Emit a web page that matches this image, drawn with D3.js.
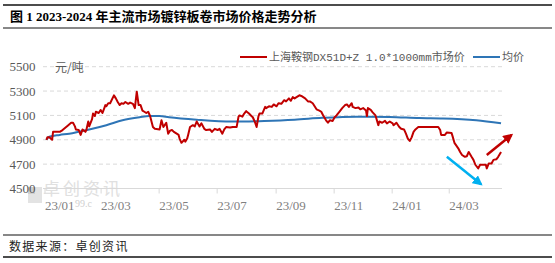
<!DOCTYPE html>
<html>
<head>
<meta charset="utf-8">
<script src="https://cdn.jsdelivr.net/npm/d3@7"></script>
<style>
  body { margin: 0; background: #fff; }
  svg { display: block; }
  .cjk { font-family: "Noto Sans CJK SC", sans-serif; }
</style>
</head>
<body>
<div id="chart"></div>
<script>
// price series: [date, yuan/ton]
const price = [
  ['2023-01-03',4900],['2023-01-04',4920],['2023-01-06',4920],['2023-01-09',4900],['2023-01-10',4965],
  ['2023-01-17',4965],['2023-01-20',4980],['2023-01-26',5020],['2023-01-29',5040],['2023-01-31',5040],
  ['2023-02-02',5010],['2023-02-03',4985],['2023-02-06',4980],['2023-02-08',4940],['2023-02-10',4985],
  ['2023-02-13',4965],['2023-02-14',4980],['2023-02-16',5050],['2023-02-17',5010],['2023-02-20',5070],
  ['2023-02-21',5115],['2023-02-23',5095],['2023-02-24',5130],['2023-02-27',5120],['2023-03-01',5145],
  ['2023-03-03',5120],['2023-03-06',5185],['2023-03-07',5175],['2023-03-09',5200],['2023-03-11',5200],
  ['2023-03-15',5265],['2023-03-17',5240],['2023-03-19',5210],['2023-03-21',5185],['2023-03-23',5200],
  ['2023-03-25',5195],['2023-03-27',5210],['2023-03-30',5195],['2023-04-01',5205],['2023-04-04',5195],
  ['2023-04-06',5160],['2023-04-08',5295],['2023-04-10',5185],['2023-04-12',5185],['2023-04-14',5140],
  ['2023-04-16',5130],['2023-04-18',5120],['2023-04-20',5130],['2023-04-22',5095],['2023-04-25',5005],
  ['2023-04-27',4990],['2023-05-02',4985],['2023-05-04',5060],['2023-05-06',5005],['2023-05-09',5040],
  ['2023-05-11',4950],['2023-05-13',4975],['2023-05-15',4980],['2023-05-17',4965],['2023-05-20',4950],
  ['2023-05-22',4940],['2023-05-23',4910],['2023-05-25',4875],['2023-05-28',4900],['2023-05-29',4885],
  ['2023-05-31',4910],['2023-06-01',4940],['2023-06-03',5005],['2023-06-06',5020],['2023-06-08',5010],
  ['2023-06-10',5050],['2023-06-13',5010],['2023-06-15',5035],['2023-06-18',4990],['2023-06-20',4980],
  ['2023-06-24',4985],['2023-06-26',4965],['2023-06-29',4990],['2023-07-02',4980],['2023-07-04',4990],
  ['2023-07-07',4950],['2023-07-09',4985],['2023-07-11',5005],['2023-07-15',5000],['2023-07-18',5005],
  ['2023-07-22',5005],['2023-07-24',5090],['2023-07-25',5100],['2023-07-28',5090],['2023-07-30',5115],
  ['2023-08-01',5135],['2023-08-04',5115],['2023-08-06',5100],['2023-08-08',5085],['2023-08-10',5050],
  ['2023-08-12',5005],['2023-08-14',5095],['2023-08-15',5115],['2023-08-18',5115],['2023-08-21',5170],
  ['2023-08-22',5160],['2023-08-25',5175],['2023-08-28',5170],['2023-08-30',5190],['2023-09-02',5175],
  ['2023-09-04',5200],['2023-09-07',5195],['2023-09-10',5225],['2023-09-12',5215],['2023-09-15',5240],
  ['2023-09-17',5220],['2023-09-19',5250],['2023-09-21',5240],['2023-09-23',5250],['2023-09-26',5265],
  ['2023-09-28',5260],['2023-10-02',5240],['2023-10-05',5215],['2023-10-07',5215],['2023-10-10',5200],
  ['2023-10-12',5175],['2023-10-14',5150],['2023-10-17',5140],['2023-10-19',5130],['2023-10-21',5100],
  ['2023-10-24',5060],['2023-10-26',5040],['2023-10-28',5060],['2023-10-31',5055],['2023-11-02',5085],
  ['2023-11-04',5100],['2023-11-07',5130],['2023-11-10',5160],['2023-11-13',5185],['2023-11-15',5190],
  ['2023-11-17',5170],['2023-11-20',5200],['2023-11-21',5170],['2023-11-24',5160],['2023-11-27',5165],
  ['2023-11-29',5150],['2023-12-02',5160],['2023-12-05',5140],['2023-12-06',5095],['2023-12-07',5160],
  ['2023-12-10',5145],['2023-12-12',5125],['2023-12-15',5100],['2023-12-18',5020],['2023-12-19',5050],
  ['2023-12-22',5040],['2023-12-25',5055],['2023-12-27',5035],['2023-12-30',5050],['2024-01-02',5035],
  ['2024-01-03',5020],['2024-01-06',5040],['2024-01-09',5005],['2024-01-11',4990],['2024-01-14',4985],
  ['2024-01-16',4950],['2024-01-18',4910],['2024-01-20',4890],['2024-01-22',4920],['2024-01-24',4965],
  ['2024-01-26',4985],['2024-01-29',5005],['2024-02-06',5005],['2024-02-12',5005],['2024-02-19',5005],
  ['2024-02-21',4980],['2024-02-22',4940],['2024-02-26',4940],['2024-02-28',4960],['2024-03-04',4955],
  ['2024-03-05',4930],['2024-03-07',4875],['2024-03-11',4830],['2024-03-13',4800],['2024-03-15',4775],
  ['2024-03-18',4760],['2024-03-20',4765],['2024-03-22',4800],['2024-03-25',4760],['2024-03-27',4735],
  ['2024-03-29',4695],['2024-04-01',4665],['2024-04-03',4695],['2024-04-07',4695],['2024-04-09',4695],
  ['2024-04-10',4665],['2024-04-12',4705],['2024-04-15',4705],['2024-04-17',4735],['2024-04-20',4740],
  ['2024-04-22',4760],['2024-04-25',4800]
];

// average price series
const avg = [
  ['2023-01-03',4900],['2023-01-06',4925],['2023-01-17',4940],['2023-01-27',4950],['2023-02-07',4968],
  ['2023-02-17',4985],['2023-03-07',5020],['2023-03-24',5060],['2023-04-11',5085],['2023-04-21',5095],
  ['2023-05-02',5095],['2023-05-12',5085],['2023-06-10',5065],['2023-07-17',5050],['2023-08-20',5055],
  ['2023-09-21',5065],['2023-10-20',5080],['2023-11-25',5090],['2023-12-30',5088],['2024-01-30',5078],
  ['2024-02-24',5075],['2024-03-30',5060],['2024-04-25',5035]
];

const yTicks = [4500, 4700, 4900, 5100, 5300, 5500];
const xTickDates = ['2023-01-01','2023-03-01','2023-05-01','2023-07-01','2023-09-01','2023-11-01','2024-01-01','2024-03-01'];
const seriesNames = ['上海鞍钢DX51D+Z 1.0*1000mm市场价', '均价'];
const seriesColors = ['#c00000', '#2e75b6'];
const titleText = '图 1 2023-2024 年主流市场镀锌板卷市场价格走势分析';
const sourceText = '数据来源：卓创资讯';
const unitText = '元/吨';

// trend arrows: [fromDate, fromValue, toDate, toValue]
const arrows = [
  { from: ['2024-04-10', 4775], to: ['2024-05-06', 4940], color: '#c00000' },
  { from: ['2024-02-28', 4760], to: ['2024-04-04', 4535], color: '#00b0f0' }
];

const width = 555;
const height = 263;
const margin = { left: 44.5, right: 53, top: 66.7, bottom: 74.5 };

const parse = d3.timeParse('%Y-%m-%d');

const svg = d3.select('#chart').append('svg')
    .attr('width', width)
    .attr('height', height);

svg.append('defs').selectAll('marker').data(arrows)
  .enter().append('marker')
    .attr('id', (d, i) => 'arrow' + i)
    .attr('viewBox', '0 0 10 10')
    .attr('refX', 8).attr('refY', 5)
    .attr('markerWidth', 4).attr('markerHeight', 4)
    .attr('markerUnits', 'strokeWidth')
    .attr('orient', 'auto')
  .append('path')
    .attr('d', 'M0,0 L10,5 L0,10 z')
    .attr('fill', d => d.color);

// title and source rules
const rule = (y, w) => svg.append('line')
    .attr('x1', 3).attr('x2', 552).attr('y1', y).attr('y2', y)
    .attr('stroke', '#111').attr('stroke-width', w);
rule(5, 1.5);
rule(28, 1);
rule(235, 1.2);
rule(257, 1.5);

svg.append('text')
    .attr('x', 10).attr('y', 21)
    .style('font-family', '"Liberation Serif", "Noto Sans CJK SC", serif')
    .style('font-size', '13px')
    .style('font-weight', 'bold')
    .attr('fill', '#000')
    .text(titleText);

svg.append('text')
    .attr('class', 'cjk')
    .attr('x', 9).attr('y', 251)
    .style('font-size', '12px')
    .style('letter-spacing', '1.3px')
    .attr('fill', '#222')
    .text(sourceText);

const x = d3.scaleTime()
    .domain([parse('2023-01-01'), parse('2024-04-26')])
    .range([margin.left, width - margin.right]);

const y = d3.scaleLinear()
    .domain([4500, 5500])
    .range([height - margin.bottom, margin.top]);

// watermark
const wm = svg.append('g');
wm.append('rect').attr('x', 28).attr('y', 187).attr('width', 14).attr('height', 16).attr('fill', '#e3e3e3');
wm.append('rect').attr('x', 28).attr('y', 187).attr('width', 7).attr('height', 7).attr('fill', '#cfcfcf');
wm.append('text')
    .attr('class', 'cjk')
    .attr('x', 43).attr('y', 195)
    .style('font-size', '17px')
    .style('letter-spacing', '3px')
    .attr('fill', '#e0e0e0')
    .text('卓创资讯');
wm.append('text')
    .attr('x', 75).attr('y', 207)
    .style('font-family', '"Liberation Serif", serif')
    .style('font-size', '10px')
    .attr('fill', '#cfcfcf')
    .text('99.c');

// gridlines
const grid = svg.append('g');
grid.selectAll('line').data(yTicks.filter(t => t > 4500))
  .enter().append('line')
    .attr('x1', 43).attr('x2', width - margin.right)
    .attr('y1', d => y(d)).attr('y2', d => y(d))
    .attr('stroke', '#d9d9d9')
    .attr('stroke-dasharray', '4,3');

// y axis
const yAxisG = svg.append('g')
    .attr('transform', `translate(${margin.left},0)`)
    .call(d3.axisLeft(y).tickValues(yTicks).tickFormat(d3.format('d')).tickSize(0).tickPadding(9));
yAxisG.select('.domain').remove();
yAxisG.selectAll('text')
    .attr('fill', '#595959')
    .style('font-family', '"Liberation Serif", serif')
    .style('font-size', '13px');

// x axis
const xAxisG = svg.append('g')
    .attr('transform', `translate(0,${y(4500)})`)
    .call(d3.axisBottom(x)
        .tickValues(xTickDates.map(parse))
        .tickFormat(d3.timeFormat('%y/%m'))
        .tickSize(5)
        .tickSizeOuter(0)
        .tickPadding(4));
xAxisG.select('.domain')
    .attr('d', `M43,0H${width - margin.right}`)
    .attr('stroke', '#d9d9d9');
xAxisG.selectAll('.tick line').attr('stroke', '#d9d9d9');
xAxisG.selectAll('text')
    .attr('fill', '#7f7f7f')
    .style('font-family', '"Liberation Serif", serif')
    .style('font-size', '13px')
    .attr('text-anchor', 'start')
    .attr('dy', '0.95em');

svg.append('text')
    .attr('class', 'cjk')
    .attr('x', 55).attr('y', 72)
    .style('font-size', '12px')
    .attr('fill', '#595959')
    .text(unitText);

// lines
const line = d3.line()
    .x(d => x(parse(d[0])))
    .y(d => y(d[1]));

svg.append('path')
    .datum(avg)
    .attr('fill', 'none')
    .attr('stroke', seriesColors[1])
    .attr('stroke-width', 2)
    .attr('d', line.curve(d3.curveMonotoneX));

svg.append('path')
    .datum(price)
    .attr('fill', 'none')
    .attr('stroke', seriesColors[0])
    .attr('stroke-width', 2)
    .attr('stroke-linejoin', 'round')
    .attr('d', line.curve(d3.curveLinear));

// arrows
svg.selectAll('.arrow').data(arrows)
  .enter().append('line')
    .attr('class', 'arrow')
    .attr('x1', d => x(parse(d.from[0]))).attr('y1', d => y(d.from[1]))
    .attr('x2', d => x(parse(d.to[0]))).attr('y2', d => y(d.to[1]))
    .attr('stroke', d => d.color)
    .attr('stroke-width', 2.5)
    .attr('marker-end', (d, i) => `url(#arrow${i})`);

// legend
const legendX = [240, 473];
const legend = svg.append('g');
seriesNames.forEach((name, i) => {
  legend.append('line')
      .attr('x1', legendX[i]).attr('x2', legendX[i] + 27)
      .attr('y1', 57).attr('y2', 57)
      .attr('stroke', seriesColors[i])
      .attr('stroke-width', 2);
  legend.append('text')
      .attr('x', legendX[i] + 29).attr('y', 61)
      .style('font-family', '"Liberation Mono", "Noto Sans CJK SC", monospace')
      .style('font-size', '11px')
      .attr('fill', '#595959')
      .text(name);
});
</script>
</body>
</html>
